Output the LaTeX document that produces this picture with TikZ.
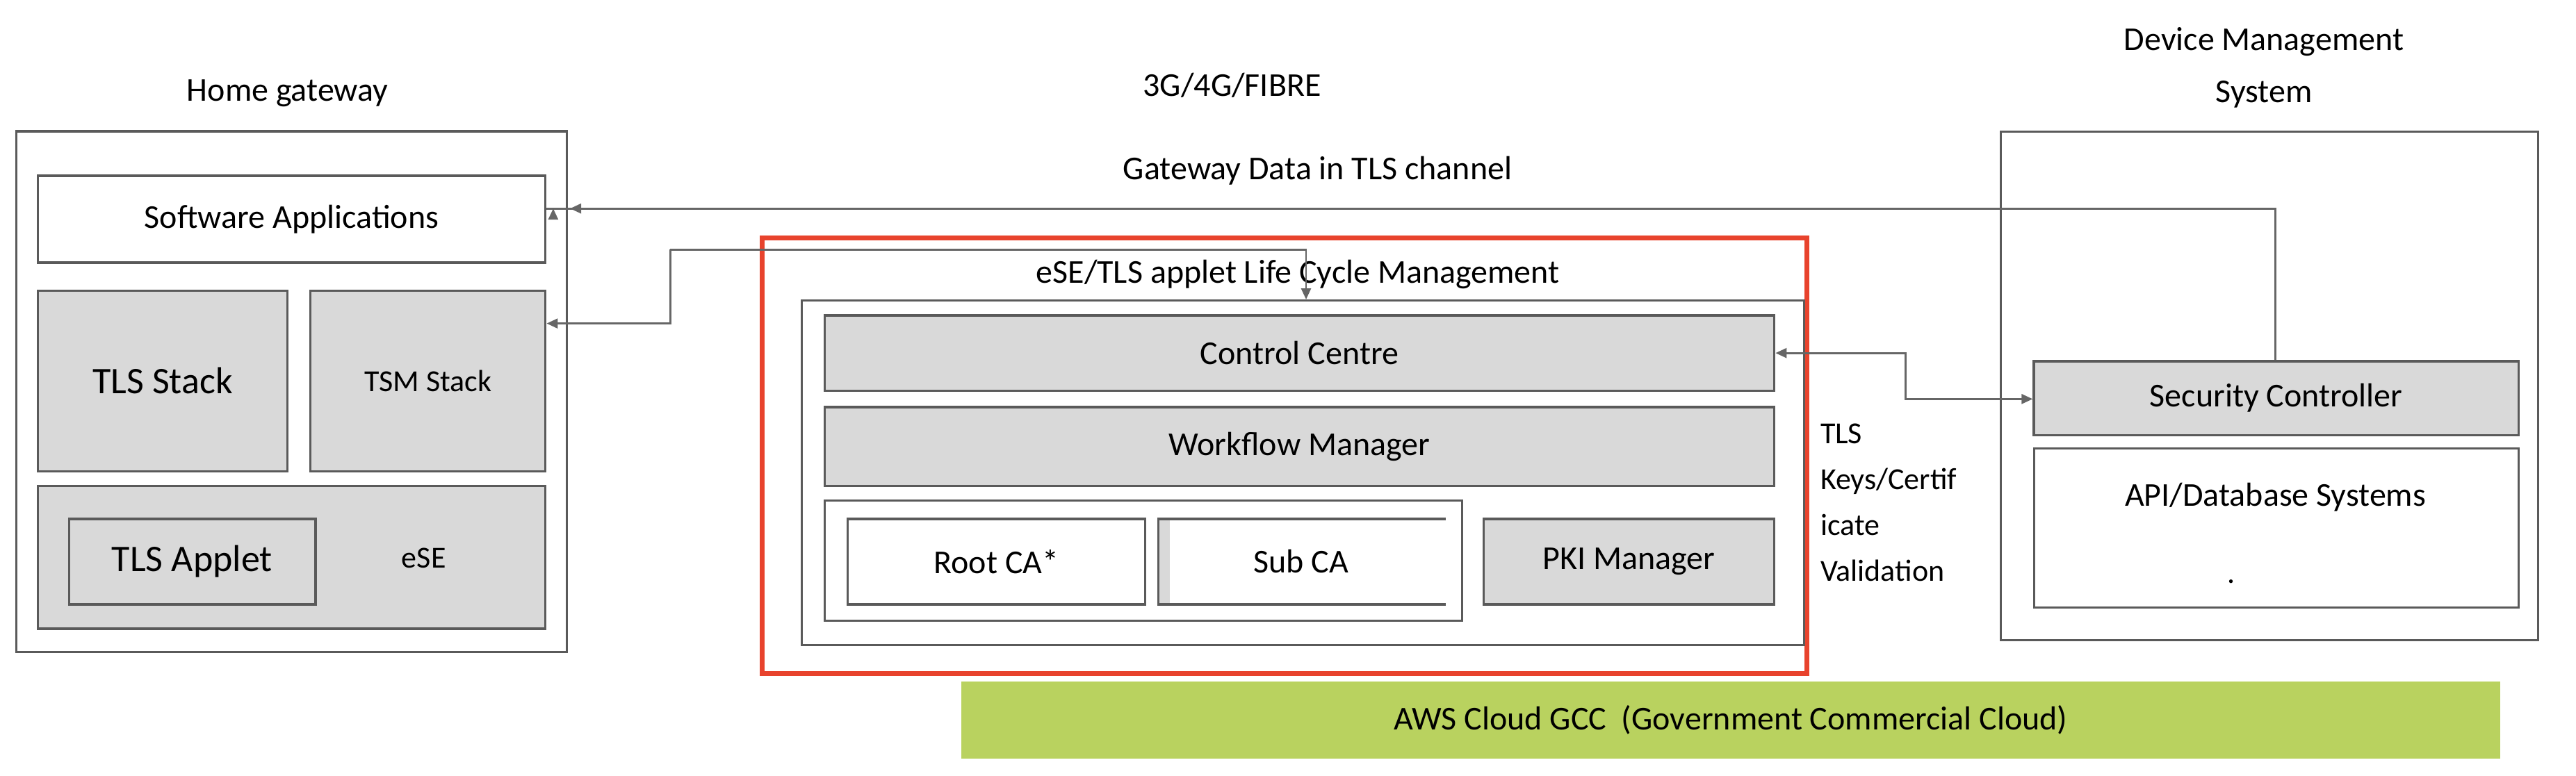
\documentclass[tikz,border=0pt]{standalone}
\usepackage{fontspec}
\setmainfont{Carlito}
\usetikzlibrary{arrows.meta}
\definecolor{bfill}{HTML}{D9D9D9}
\definecolor{bdraw}{HTML}{5A5A5A}
\definecolor{redb}{HTML}{E8432D}
\definecolor{greenb}{HTML}{B9D25F}
\newcommand\bx[6]{%
 \pgfmathsetmacro\cx{(#2+#4)/2}\pgfmathsetmacro\cy{(#3+#5)/2}%
 \pgfmathsetmacro\ww{(#4-#2)*2.3635}\pgfmathsetmacro\hh{(#5-#3)*2.3635}%
 \node[#6,minimum width=\ww pt,minimum height=\hh pt] (#1) at (\cx,\cy) {};}
\begin{document}
\begin{tikzpicture}[x=2.3635pt,y=-2.3635pt,
  box/.style={draw=bdraw,line width=3.5pt,inner sep=0pt,fill=white},
  gbox/.style={box,fill=bfill},
  lbl/.style={font=\fontsize{48}{56}\selectfont,inner sep=0pt},
  sl/.style={font=\fontsize{44}{52}\selectfont,inner sep=0pt},
  conn/.style={draw=gray!80!black,line width=2.8pt},
  tip/.style={-{Triangle[length=16pt,width=14pt]}}]
\useasboundingbox (0,0) rectangle (1568,472.6);
% Home gateway
\node[lbl] (hgt) at (175,57) {Home gateway};
\bx{hg}{10}{80}{345}{397}{box}
\bx{sw}{23}{107}{332}{160}{box}
\node[lbl] at (sw) {Software Applications};
\bx{tls}{23}{177}{175}{287}{gbox}
\node[lbl,font=\fontsize{54}{60}\selectfont] at (tls) {TLS Stack};
\bx{tsm}{189}{177}{332}{287}{gbox}
\node[sl] at (tsm) {TSM Stack};
\bx{ese}{23}{296}{332}{383}{gbox}
\bx{app}{42}{316}{192}{368}{gbox}
\node[lbl,font=\fontsize{54}{60}\selectfont] at (app) {TLS Applet};
\node[sl] (eset) at (258,340) {eSE};
% middle
\node[lbl] (net) at (750,52) {3G/4G/FIBRE};
\node[lbl] (gd) at (802,104) {Gateway Data in TLS channel};
\bx{red}{464}{145}{1100}{410}{draw=redb,line width=7pt,inner sep=0pt}
\node[lbl] (lcm) at (790,167) {eSE/TLS applet Life Cycle Management};
\bx{inner}{488}{183}{1098}{393}{box,line width=3pt}
\bx{cc}{502}{192}{1080}{238}{gbox}
\node[lbl] at (cc) {Control Centre};
\bx{wf}{502}{248}{1080}{296}{gbox}
\node[lbl] at (wf) {Workflow Manager};
\bx{cag}{502}{305}{890}{378}{box,line width=3pt}
\bx{root}{516}{316}{697}{368}{box}
\node[lbl] at (root) {Root CA*};
\fill[bfill] (705,316) rectangle (712,368);
\draw[draw=bdraw,line width=3.5pt] (880,316) -- (705,316) -- (705,368) -- (880,368);
\node[lbl] (sub) at (792,342) {Sub CA};
\bx{pki}{903}{316}{1080}{368}{gbox}
\node[lbl] at (pki) {PKI Manager};
\node[sl,align=left,anchor=north west,font=\fontsize{44}{66}\selectfont] (keys) at (1108,258) {TLS\\Keys/Certif\\icate\\Validation};
% DMS
\node[lbl,align=center,font=\fontsize{48}{75}\selectfont] (dmst) at (1378,41) {Device Management\\System};
\bx{dms}{1218}{80}{1545}{390}{box,line width=3pt}
\bx{sc}{1238}{220}{1533}{265}{gbox}
\node[lbl] at (sc) {Security Controller};
\bx{api}{1238}{273}{1533}{370}{box,line width=3pt}
\node[lbl] (apit) at (1385,303) {API/Database Systems};
\node[sl] (dot) at (1358,354) {.};
% AWS
\bx{aws}{585}{415}{1522}{462}{fill=greenb}
\node[lbl] at (aws) {AWS Cloud GCC\ \ (Government Commercial Cloud)};
% connectors
\draw[conn,tip] (sc.north -| 1385,0) -- (1385,127) -- (sw.east |- 0,127) ++(4,0);
\draw[conn,tip] (1385,127) -- (347,127);
\draw[conn,tip] (408,152) -- (408,197) -- (tsm.east |- 0,197);
\draw[conn,tip] (408,152) -- (795,152) -- (inner.north -| 795,0);
\draw[conn,{Triangle[length=16pt,width=14pt]}-{Triangle[length=16pt,width=14pt]}] (cc.east) -- (1160,215) -- (1160,243) -- (sc.west |- 0,243);
\end{tikzpicture}
\end{document}
